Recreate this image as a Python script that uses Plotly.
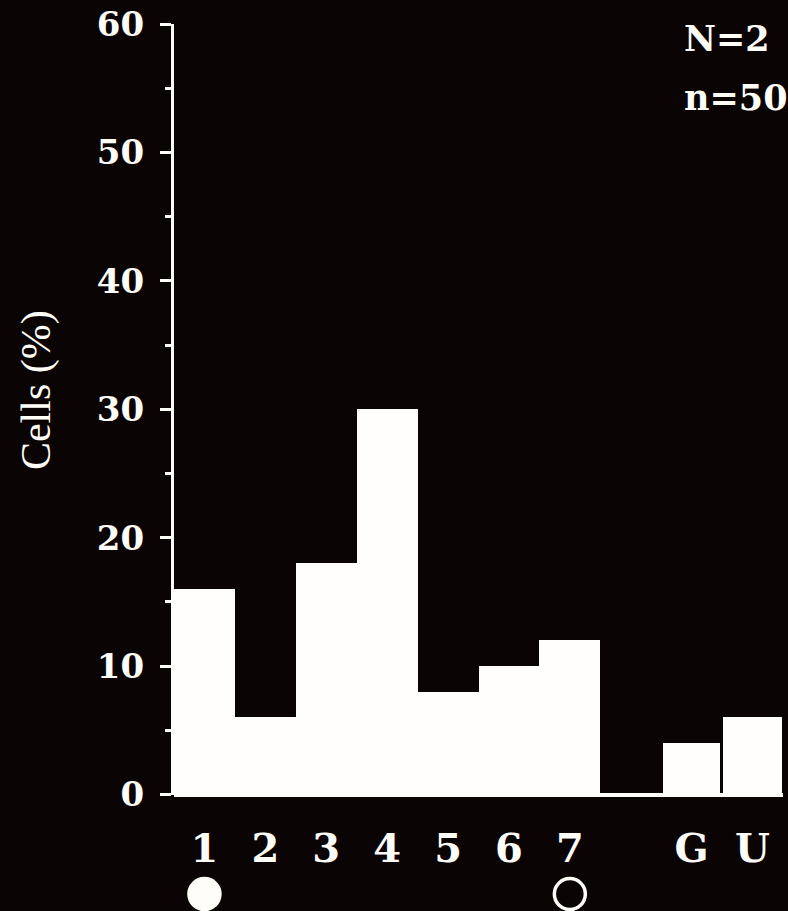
import plotly.graph_objects as go

categories = ["1", "2", "3", "4", "5", "6", "7", " ", "G", "U"]
cells_pct = [16, 6, 18, 30, 8, 10, 12, 0, 4, 6]
y_ticks = [0, 10, 20, 30, 40, 50, 60]
marker_cats = ["1", "7"]
marker_level = [0.45, 0.45]
marker_symbols = ["circle", "circle-open"]
stats_lines = ["N=2", "n=50"]
y_title = "Cells (%)"

BG = "#0a0404"
FG = "#fffdf8"
BAR = "#fffefc"
FONT = "DejaVu Serif"
TITLE_FONT = "Liberation Serif"

bar_widths = [1, 1, 1, 1, 1, 1, 1, 1, 0.94, 0.97]

fig = go.Figure()
fig.add_trace(go.Bar(
    x=categories, y=cells_pct, width=bar_widths,
    marker=dict(color=BAR, line=dict(width=0)),
    hoverinfo="skip", showlegend=False,
))
fig.add_trace(go.Scatter(
    x=marker_cats, y=marker_level, mode="markers", yaxis="y2",
    marker=dict(symbol=marker_symbols, size=31, color=FG,
                line=dict(color=FG, width=3.5)),
    cliponaxis=False, showlegend=False, hoverinfo="skip",
))

fig.update_layout(
    width=788, height=911,
    paper_bgcolor=BG, plot_bgcolor=BG,
    margin=dict(l=174, r=5, t=24, b=5, autoexpand=False),
    bargap=0,
    font=dict(family=FONT, color=FG),
    xaxis=dict(
        type="category", categoryorder="array", categoryarray=categories,
        range=[-0.5, 9.5], showgrid=False, zeroline=False, automargin=False,
        showline=False, ticks="", ticklabelstandoff=26, anchor="y",
        tickfont=dict(family=FONT, size=40, color=FG, weight="bold"),
    ),
    yaxis=dict(
        domain=[0.1264, 1], automargin=False,
        range=[0, 60], tickvals=y_ticks, showgrid=False, zeroline=True,
        zerolinecolor=FG, zerolinewidth=4,
        showline=True, linecolor=FG, linewidth=3,
        ticks="outside", ticklen=11, tickwidth=3, tickcolor=FG,
        ticklabelstandoff=9,
        minor=dict(dtick=5, ticks="outside", ticklen=6, tickwidth=3, tickcolor=FG),
        tickfont=dict(family=FONT, size=34, color=FG, weight="bold"),
    ),
    yaxis2=dict(
        domain=[0, 0.03], range=[0, 1], anchor="x", automargin=False,
        visible=False, showgrid=False, zeroline=False,
    ),
)

fig.add_annotation(
    text=y_title, xref="paper", yref="paper", x=-0.2266, y=0.585,
    xanchor="center", yanchor="middle", textangle=-90, showarrow=False,
    font=dict(family=TITLE_FONT, size=42, color=FG),
)

stats_y = [0.984, 0.917]
for line, yy in zip(stats_lines, stats_y):
    fig.add_annotation(
        text=line, xref="paper", yref="paper", x=0.834, y=yy,
        xanchor="left", yanchor="middle", showarrow=False,
        font=dict(family=FONT, size=35, color=FG, weight="bold"),
    )

fig.write_html(
    "out.html",
    config={"displayModeBar": False},
    post_script="document.body.style.margin='0';document.body.style.background='#0a0404';",
)
